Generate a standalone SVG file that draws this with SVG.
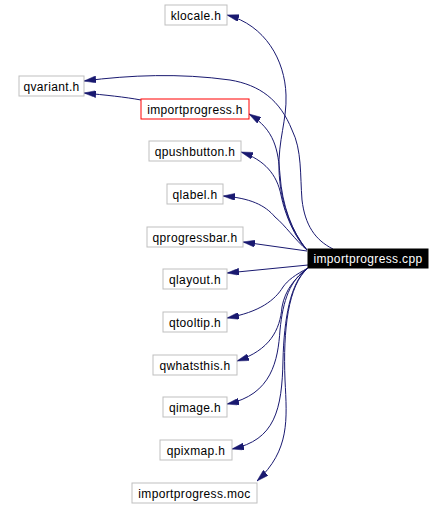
<svg xmlns="http://www.w3.org/2000/svg" width="444" height="508" viewBox="0 0 444 508">
<style>
.n rect{fill:#ffffff;stroke:#bfbfbf;stroke-width:1}
.n text{font-family:"Liberation Sans",Arial,sans-serif;font-size:12px;fill:#000000;text-anchor:middle;letter-spacing:0.35px}
#n_h rect{stroke:#ff0000}
#n_cpp rect{fill:#000000;stroke:#000000}
#n_cpp text{fill:#ffffff}
.e path{fill:none;stroke:#191970;stroke-width:1;marker-end:url(#ah)}
</style>
<defs>
<marker id="ah" viewBox="0 0 12 7" refX="12" refY="3.5" markerUnits="userSpaceOnUse" markerWidth="12" markerHeight="7" orient="auto">
<path d="M0,0 L12,3.5 L0,7 z" fill="#191970" stroke="#191970" stroke-width="0.5"/>
</marker>
</defs>
<rect width="444" height="508" fill="#ffffff"/>
<g class="e" id="edges">
<path d="M307,250 C290,230 280,200 279,170 C278,140 287,120 286,95 C285,60 265,25 227,15"/>
<path d="M333,249 C315,240 305,225 302,200 C300,175 302,150 292,130 C280,100 260,85 230,80 C180,73 130,75 84,81"/>
<path d="M141,100 C125,97 105,95 84,93"/>
<path d="M307,250 C292,232 282,205 280,175 C278,150 275,130 249,114"/>
<path d="M307,250 C295,238 285,215 281,195 C277,175 265,160 241,152"/>
<path d="M307,250 C295,240 285,225 275,217 C265,205 250,198 223,196"/>
<path d="M307,251 L243,242"/>
<path d="M308,265 L227,273"/>
<path d="M308,268 C295,275 288,280 283,287 C275,300 260,312 227,318"/>
<path d="M308,268 C295,278 285,290 282,307 C280,330 270,350 237,361"/>
<path d="M308,268 C290,280 283,300 280,330 C278,360 272,395 227,404"/>
<path d="M308,268 C290,282 284,320 283,360 C282,410 275,440 232,449"/>
<path d="M308,268 C288,285 283,330 285,380 C287,420 290,450 257,481"/>
</g>
<g class="n" id="n_klocale"><rect x="165" y="5" width="62" height="20"/><text x="196" y="19.5">klocale.h</text></g>
<g class="n" id="n_qvariant"><rect x="19" y="76" width="65" height="20"/><text x="51.5" y="90.5">qvariant.h</text></g>
<g class="n" id="n_h"><rect x="141" y="99" width="108" height="20"/><text x="195" y="113.5">importprogress.h</text></g>
<g class="n" id="n_qpushbutton"><rect x="149" y="141" width="92" height="20"/><text x="195" y="155.5">qpushbutton.h</text></g>
<g class="n" id="n_qlabel"><rect x="167" y="184" width="56" height="20"/><text x="195" y="198.5">qlabel.h</text></g>
<g class="n" id="n_qprogressbar"><rect x="147" y="227" width="96" height="20"/><text x="195" y="241.5">qprogressbar.h</text></g>
<g class="n" id="n_cpp"><rect x="308" y="249" width="120" height="19"/><text x="368" y="263">importprogress.cpp</text></g>
<g class="n" id="n_qlayout"><rect x="163" y="269" width="64" height="20"/><text x="195" y="283.5">qlayout.h</text></g>
<g class="n" id="n_qtooltip"><rect x="163" y="312" width="64" height="20"/><text x="195" y="326.5">qtooltip.h</text></g>
<g class="n" id="n_qwhatsthis"><rect x="153" y="355" width="84" height="20"/><text x="195" y="369.5">qwhatsthis.h</text></g>
<g class="n" id="n_qimage"><rect x="163" y="397" width="64" height="20"/><text x="195" y="411.5">qimage.h</text></g>
<g class="n" id="n_qpixmap"><rect x="160" y="440" width="72" height="20"/><text x="196" y="454.5">qpixmap.h</text></g>
<g class="n" id="n_moc"><rect x="132" y="483" width="125" height="20"/><text x="194.5" y="497.5">importprogress.moc</text></g>
</svg>
